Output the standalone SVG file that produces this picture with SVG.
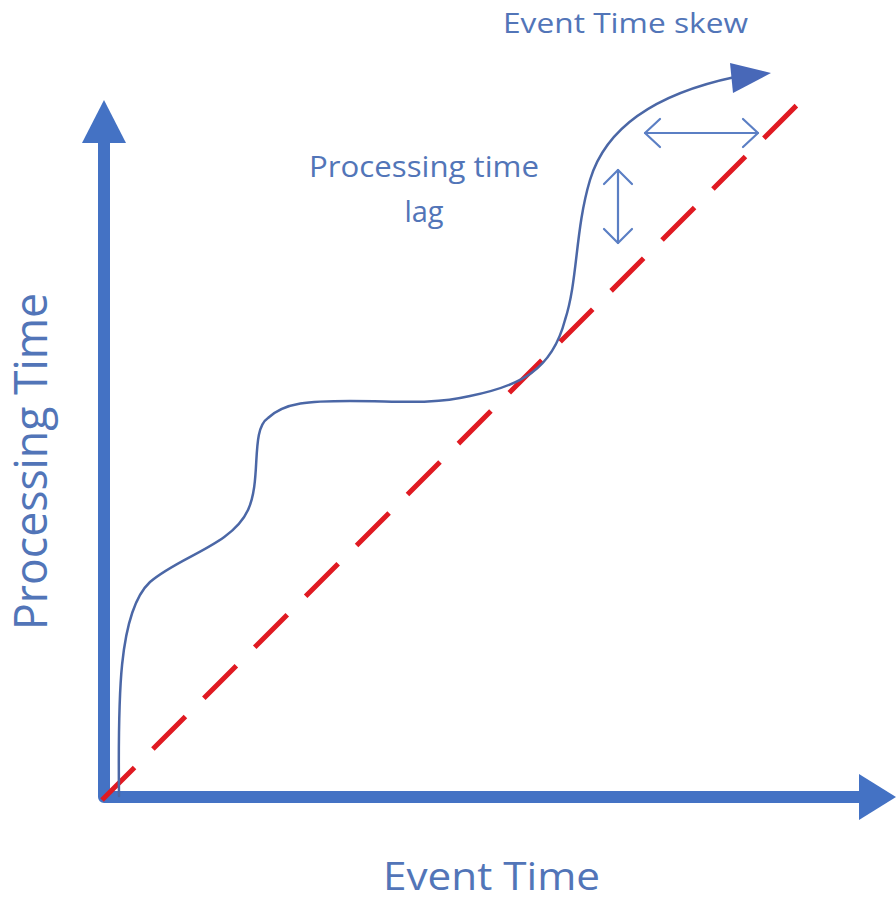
<svg xmlns="http://www.w3.org/2000/svg" width="896" height="900" viewBox="0 0 896 900">
  <style>
    .axis { fill: none; stroke: #4472c4; stroke-width: 12; stroke-linejoin: round; }
    .axis-head { fill: #4472c4; }
    .ideal { fill: none; stroke: #e01a22; stroke-width: 5; stroke-dasharray: 46 26; }
    .actual { fill: none; stroke: #4b67a6; stroke-width: 2.5; stroke-linecap: round; }
    .actual-head { fill: #4868b8; }
    .measure { fill: none; stroke: #5b7fc4; stroke-width: 2.2; stroke-linecap: round; stroke-linejoin: round; }
    .label { font-family: "Open Sans", "Noto Sans", sans-serif; fill: #5275b8; }
  </style>

  <!-- axes -->
  <g id="axes">
    <path class="axis" d="M104,140 L104,797 L862,797"/>
    <polygon class="axis-head" points="104,100 82,143 126,143"/>
    <polygon class="axis-head" points="896,797 859,774 859,820"/>
  </g>

  <!-- ideal: event time == processing time -->
  <g id="ideal-line">
    <line class="ideal" x1="102" y1="800" x2="800" y2="102"/>
  </g>

  <!-- actual processing progress -->
  <g id="actual-curve">
    <path class="actual" d="M119,796 C118,700 118,612 150,582 C180,556 232,545 248,510 C262,480 250,430 268,418 C285,402 310,401 350,401 C400,401 430,405 470,396 C520,386 552,370 565,320 C578,280 575,230 590,180 C605,130 650,95 735,77"/>
    <polygon class="actual-head" points="771,73 730,63 733,93"/>
  </g>

  <!-- gap measurements -->
  <g id="connectors">
    <g id="lag-arrow">
      <line class="measure" x1="618" y1="170" x2="618" y2="243"/>
      <polyline class="measure" points="604,184 618,170 632,184"/>
      <polyline class="measure" points="604,229 618,243 632,229"/>
    </g>
    <g id="skew-arrow">
      <line class="measure" x1="645" y1="133" x2="758" y2="133"/>
      <polyline class="measure" points="660,119 645,133 660,147"/>
      <polyline class="measure" points="743,119 758,133 743,147"/>
    </g>
  </g>

  <!-- labels -->
  <g id="label-skew">
    <text class="label" x="503" y="33" font-size="28" textLength="245" lengthAdjust="spacingAndGlyphs">Event Time skew</text>
  </g>
  <g id="label-lag">
    <text class="label" x="424" y="177" font-size="29" text-anchor="middle" textLength="230" lengthAdjust="spacingAndGlyphs">Processing time</text>
    <text class="label" x="424" y="222" font-size="29" text-anchor="middle">lag</text>
  </g>
  <g id="label-x">
    <text class="label" x="383" y="890" font-size="38" textLength="217" lengthAdjust="spacingAndGlyphs">Event Time</text>
  </g>
  <g id="label-y">
    <text class="label" transform="translate(47,630) rotate(-90)" x="0" y="0" font-size="45" textLength="337" lengthAdjust="spacingAndGlyphs">Processing Time</text>
  </g>
</svg>
